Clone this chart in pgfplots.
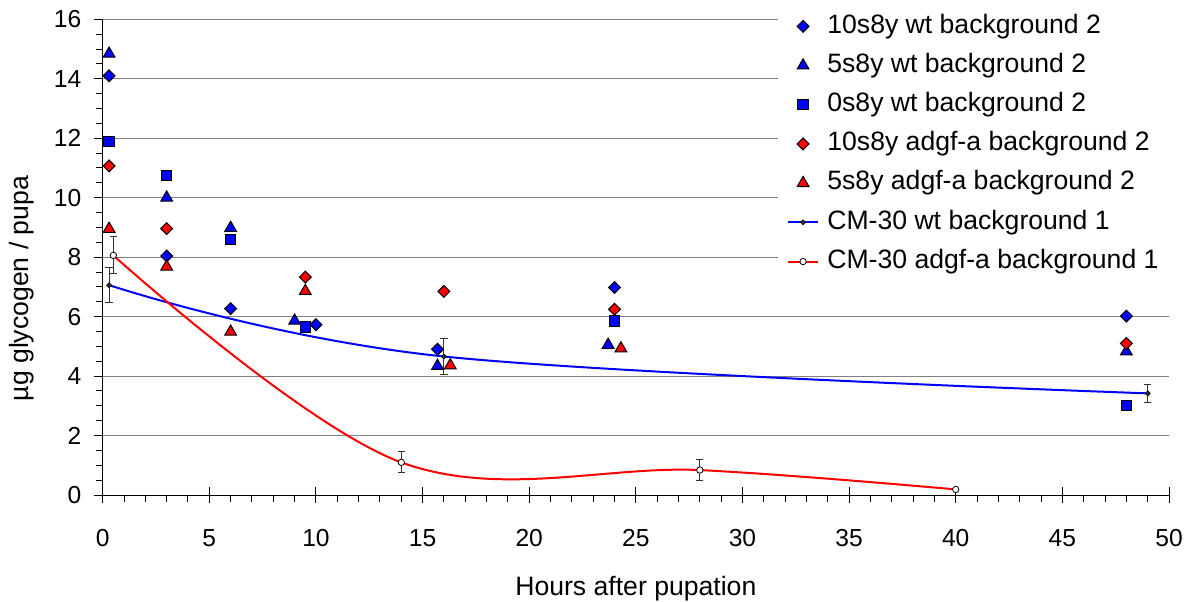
\documentclass[border=0pt]{standalone}
\usepackage{fontspec}
\setmainfont{Liberation Sans}
\usepackage{pgfplots}
\pgfplotsset{compat=1.18}
\definecolor{xblue}{RGB}{0,0,255}
\definecolor{xred}{RGB}{255,0,0}
\definecolor{xgrid}{RGB}{128,128,128}
\definecolor{xdark}{RGB}{51,51,51}
\begin{document}
\begin{tikzpicture}
\pgfplotsset{
  myimg/.style={legend image code/.code={\draw[mark repeat=2,mark phase=2,##1] plot coordinates {(0pt,0pt) (7.5pt,0pt) (15pt,0pt)};}},
  dia/.style={only marks, mark=square*, mark size=2.1pt, mark options={rotate=45, draw=black, line width=0.5pt, fill=#1}, myimg},
  tri/.style={only marks, mark=triangle*, mark size=3.4pt, mark options={draw=black, line width=0.5pt, fill=#1}, myimg},
  sqr/.style={only marks, mark=square*, mark size=2.6pt, mark options={draw=black, line width=0.5pt, fill=#1}, myimg},
}
\begin{axis}[
  at={(0,0)}, anchor=south west,
  scale only axis, width=533.2pt, height=237.9pt,
  xmin=0, xmax=50, ymin=0, ymax=16,
  axis x line*=bottom, axis y line*=left,
  axis line style={black, line width=0.5pt},
  xtick={0,5,...,50}, minor x tick num=4,
  ytick={0,2,...,16}, minor y tick num=3,
  tick align=outside,
  major tick length=4.2pt, minor tick length=3.4pt,
  tick style={black, line width=0.5pt},
  extra x ticks={0,5,10,15,20,25,30,35,40,45,50},
  extra x tick labels={},
  extra x tick style={tick align=inside, grid=none},
  ymajorgrids, major grid style={xgrid, line width=0.5pt},
  /pgf/number format/assume math mode=true,
  tick label style={font=\fontsize{12.3}{14}\selectfont},
  xticklabel style={yshift=-9.5pt},
  yticklabel style={xshift=-3pt},
  xlabel={Hours after pupation},
  ylabel={µg glycogen / pupa},
  label style={font=\fontsize{13.3}{16}\selectfont},
  xlabel style={at={(axis description cs:0.5,-0.1976)}, anchor=center},
  ylabel style={at={(axis description cs:-0.0757,0.434)}, anchor=center},
  clip=false,
  legend style={at={(axis description cs:0.6333,1.044)}, anchor=north west,
    draw=none, fill=white, inner xsep=4.35pt, inner ysep=4pt,
    font=\fontsize{13.3}{16}\selectfont, row sep=0pt,
    cells={anchor=west},
    nodes={text height=9.5pt, text depth=2.8pt, inner ysep=3.65pt, inner xsep=4.15pt}},
  error bars/error bar style={xdark, line width=0.5pt},
  error bars/error mark options={rotate=90, mark size=1.8pt, xdark, line width=0.5pt},
]
% CM-30 lines (drawn first, legend entries added at the end)
\addplot[xblue, line width=1pt, smooth, tension=0.6, forget plot,
  mark=square*, mark size=0.9pt, mark options={rotate=45, fill=xdark, draw=black, line width=0.3pt},
  error bars/.cd, y dir=both, y explicit]
  coordinates {(0.3,7.06) +- (0,0.6) (16,4.66) +- (0,0.6) (49,3.42) +- (0,0.3)};
\addplot[xred, line width=1pt, smooth, tension=0.6, forget plot,
  mark=*, mark size=1.6pt, mark options={fill=white, draw=black, line width=0.4pt},
  error bars/.cd, y dir=both, y explicit]
  coordinates {(0.5,8.06) +- (0,0.62) (14,1.1) +- (0,0.35) (28,0.84) +- (0,0.35) (40,0.19) +- (0,0)};
% scatter series
\addplot[dia=xblue] coordinates {(0.3,14.1) (3,8.04) (6,6.27) (10,5.73) (15.7,4.9) (24,6.98) (48,6.02)};
\addlegendentry{10s8y wt background 2}
\addplot[tri=xblue] coordinates {(0.3,14.84) (3,10.0) (6,8.98) (9,5.86) (15.7,4.34) (23.7,5.05) (48,4.83)};
\addlegendentry{5s8y wt background 2}
\addplot[sqr=xblue] coordinates {(0.3,11.9) (3,10.74) (6,8.59) (9.5,5.65) (24,5.85) (48,3.02)};
\addlegendentry{0s8y wt background 2}
\addplot[dia=xred] coordinates {(0.3,11.07) (3,8.96) (9.5,7.33) (16,6.85) (24,6.25) (48,5.10)};
\addlegendentry{10s8y adgf-a background 2}
\addplot[tri=xred] coordinates {(0.3,8.95) (3,7.68) (6,5.49) (9.5,6.86) (16.3,4.36) (24.3,4.93)};
\addlegendentry{5s8y adgf-a background 2}
\addlegendimage{xblue, line width=1pt, mark=square*, mark size=0.9pt, mark options={rotate=45, fill=xdark, draw=black, line width=0.3pt}, myimg}
\addlegendentry{CM-30 wt background 1}
\addlegendimage{xred, line width=1pt, mark=*, mark size=1.6pt, mark options={fill=white, draw=black, line width=0.4pt}, myimg}
\addlegendentry{CM-30 adgf-a background 1}
\end{axis}
\pgfresetboundingbox
\path[use as bounding box] (-51.35pt,-53pt) rectangle (545.7pt,247.55pt);
\end{tikzpicture}
\end{document}
